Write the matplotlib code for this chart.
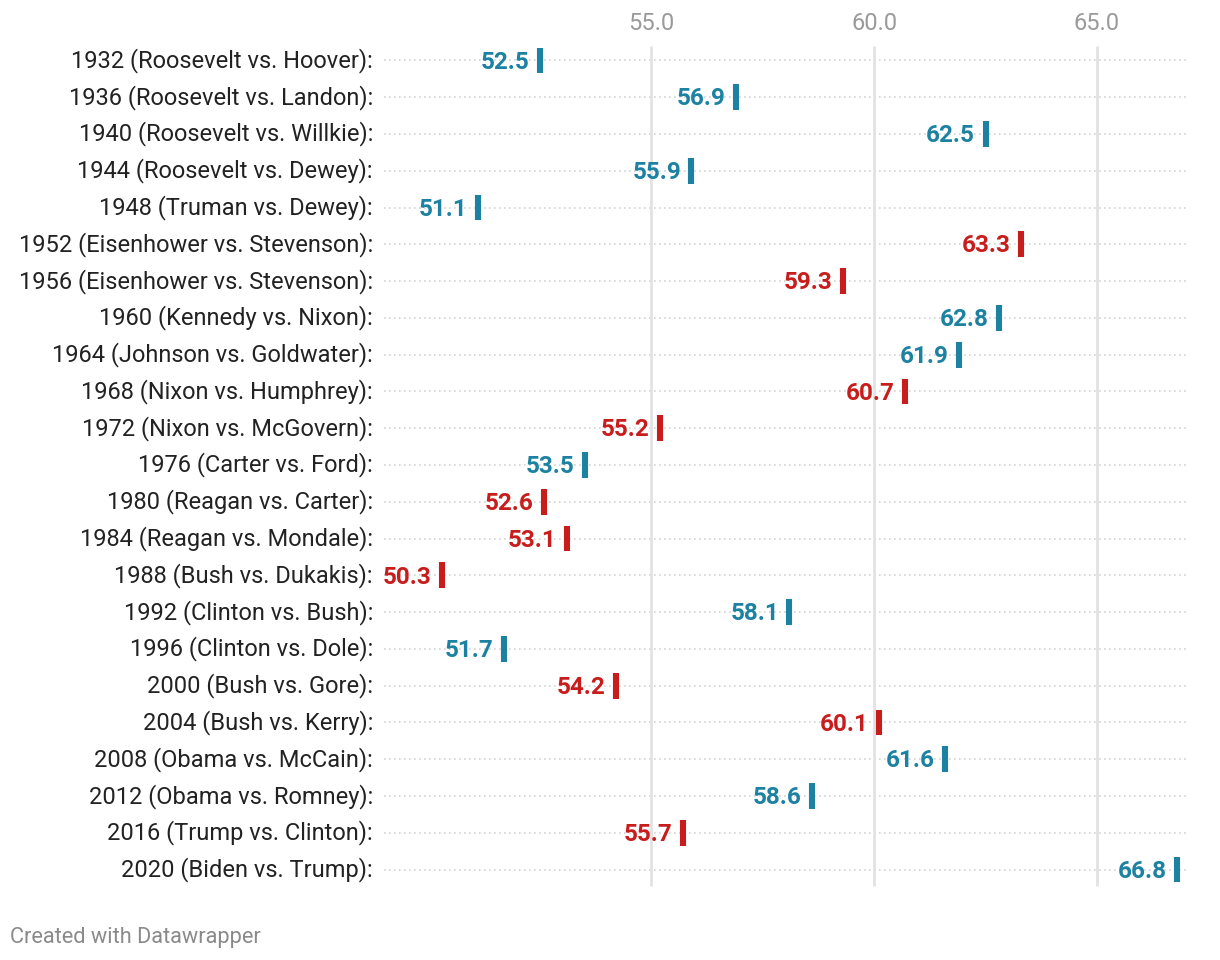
import matplotlib
matplotlib.use("Agg")
import matplotlib.pyplot as plt

plt.rcParams['font.family'] = ['Roboto', 'DejaVu Sans']

elections = [
    "1932 (Roosevelt vs. Hoover):", "1936 (Roosevelt vs. Landon):", "1940 (Roosevelt vs. Willkie):",
    "1944 (Roosevelt vs. Dewey):", "1948 (Truman vs. Dewey):", "1952 (Eisenhower vs. Stevenson):",
    "1956 (Eisenhower vs. Stevenson):", "1960 (Kennedy vs. Nixon):", "1964 (Johnson vs. Goldwater):",
    "1968 (Nixon vs. Humphrey):", "1972 (Nixon vs. McGovern):", "1976 (Carter vs. Ford):",
    "1980 (Reagan vs. Carter):", "1984 (Reagan vs. Mondale):", "1988 (Bush vs. Dukakis):",
    "1992 (Clinton vs. Bush):", "1996 (Clinton vs. Dole):", "2000 (Bush vs. Gore):",
    "2004 (Bush vs. Kerry):", "2008 (Obama vs. McCain):", "2012 (Obama vs. Romney):",
    "2016 (Trump vs. Clinton):", "2020 (Biden vs. Trump):",
]
turnout = [52.5, 56.9, 62.5, 55.9, 51.1, 63.3, 59.3, 62.8, 61.9, 60.7, 55.2, 53.5,
           52.6, 53.1, 50.3, 58.1, 51.7, 54.2, 60.1, 61.6, 58.6, 55.7, 66.8]
winner_party = ["D", "D", "D", "D", "D", "R", "R", "D", "D", "R", "R", "D",
                "R", "R", "R", "D", "D", "R", "R", "D", "D", "R", "D"]
x_ticks = [55.0, 60.0, 65.0]
x_tick_labels = ["55.0", "60.0", "65.0"]

party_colors = {"D": "#1d81a2", "R": "#c71e1d"}

fig = plt.figure(figsize=(12.2, 9.6), dpi=100)
ax = fig.add_axes([384 / 1220, 1 - 888 / 960, (1186 - 384) / 1220, (888 - 42) / 960])

n = len(elections)
ys = list(range(n))
ax.set_xlim(49.0, 67.0)
ax.set_ylim(n - 0.5, -0.5)

# horizontal dotted row lines
for y in ys:
    ax.axhline(y, color="#d4d4d4", lw=1.2, ls=(0, (1, 2)), zorder=1)
# vertical grid lines
for xt in x_ticks:
    ax.plot([xt, xt], [-0.4, n - 0.55], color="#e2e2e2", lw=2, zorder=2, solid_capstyle="butt")

for y, v, p in zip(ys, turnout, winner_party):
    c = party_colors[p]
    ax.plot([v, v], [y - 0.35, y + 0.35], color=c, lw=4.4, solid_capstyle="butt", zorder=4)
    ax.annotate(f"{v:.1f}", xy=(v, y), xytext=(-7.5, 0.6), textcoords="offset points",
                ha="right", va="center_baseline", fontsize=17.5, fontweight="bold", color=c, zorder=5)

ax.xaxis.tick_top()
ax.set_xticks(x_ticks)
ax.set_xticklabels(x_tick_labels, fontsize=17, color="#9a9a9a")
ax.tick_params(axis="x", length=0, pad=5)
ax.set_yticks(ys)
ax.set_yticklabels(elections, fontsize=17, color="#222222", va="center")
ax.tick_params(axis="y", length=0, pad=8)
for s in ax.spines.values():
    s.set_visible(False)

fig.text(10 / 1220, 1 - 937 / 960, "Created with Datawrapper", fontsize=15.7, color="#8a8a8a",
         ha="left", va="center")

fig.savefig("out.png", dpi=100)
